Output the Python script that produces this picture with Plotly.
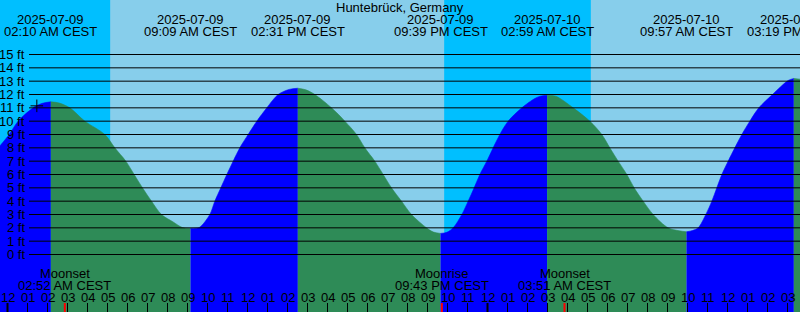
import plotly.graph_objects as go
import pandas as pd

# ---------------- data ----------------
title_text = "Huntebrück, Germany"

extreme_times = ["2025-07-09 02:10", "2025-07-09 09:09", "2025-07-09 14:31", "2025-07-09 21:39",
                 "2025-07-10 02:59", "2025-07-10 09:57", "2025-07-10 15:19"]
extreme_ft = [11.45, 1.95, 12.47, 1.58, 11.95, 1.70, 13.2]
extreme_date_labels = ["2025-07-09", "2025-07-09", "2025-07-09", "2025-07-09",
                       "2025-07-10", "2025-07-10", "2025-07-10"]
extreme_time_labels = ["02:10 AM CEST", "09:09 AM CEST", "02:31 PM CEST", "09:39 PM CEST",
                       "02:59 AM CEST", "09:57 AM CEST", "03:19 PM CEST"]

# tide height readings (ft) taken off the reference curve
curve_times = [
    "2025-07-08 23:37:30", "2025-07-09 00:05", "2025-07-09 00:32", "2025-07-09 01:17", "2025-07-09 01:45",
    "2025-07-09 02:10",
    "2025-07-09 02:35", "2025-07-09 03:07", "2025-07-09 03:52", "2025-07-09 04:52", "2025-07-09 05:22",
    "2025-07-09 05:55", "2025-07-09 06:20", "2025-07-09 06:45", "2025-07-09 07:12", "2025-07-09 07:42",
    "2025-07-09 08:17", "2025-07-09 08:45",
    "2025-07-09 09:09",
    "2025-07-09 09:24", "2025-07-09 09:37", "2025-07-09 10:07", "2025-07-09 10:22", "2025-07-09 10:40",
    "2025-07-09 10:58", "2025-07-09 11:17", "2025-07-09 11:37", "2025-07-09 12:02", "2025-07-09 12:28",
    "2025-07-09 12:58", "2025-07-09 13:32", "2025-07-09 14:05",
    "2025-07-09 14:31",
    "2025-07-09 14:55", "2025-07-09 15:22", "2025-07-09 16:12", "2025-07-09 16:52", "2025-07-09 17:27",
    "2025-07-09 17:52", "2025-07-09 18:22", "2025-07-09 18:47", "2025-07-09 19:12", "2025-07-09 19:42",
    "2025-07-09 20:12", "2025-07-09 20:57", "2025-07-09 21:18",
    "2025-07-09 21:39",
    "2025-07-09 21:58", "2025-07-09 22:17", "2025-07-09 22:43", "2025-07-09 23:02", "2025-07-09 23:20",
    "2025-07-09 23:37", "2025-07-09 23:58", "2025-07-10 00:17", "2025-07-10 00:37", "2025-07-10 01:02",
    "2025-07-10 01:43", "2025-07-10 02:22", "2025-07-10 02:38",
    "2025-07-10 02:59",
    "2025-07-10 03:25", "2025-07-10 04:17", "2025-07-10 05:07", "2025-07-10 05:43", "2025-07-10 06:07",
    "2025-07-10 06:32", "2025-07-10 06:58", "2025-07-10 07:20", "2025-07-10 07:47", "2025-07-10 08:17",
    "2025-07-10 09:02", "2025-07-10 09:35",
    "2025-07-10 09:57",
    "2025-07-10 10:15", "2025-07-10 10:32", "2025-07-10 10:55", "2025-07-10 11:13", "2025-07-10 11:28",
    "2025-07-10 11:43", "2025-07-10 12:02", "2025-07-10 12:22", "2025-07-10 12:43", "2025-07-10 13:07",
    "2025-07-10 13:34", "2025-07-10 14:15", "2025-07-10 15:02",
    "2025-07-10 15:19",
    "2025-07-10 15:37:30",
]
curve_ft = [
    8.15, 9.0, 10.0, 11.0, 11.34,
    11.45,
    11.36, 11.0, 10.0, 9.0, 8.0,
    7.0, 6.0, 5.0, 4.0, 3.0,
    2.44, 2.02,
    1.95,
    1.97, 2.05, 3.0, 4.0, 5.0,
    6.0, 7.0, 8.0, 9.0, 10.0,
    11.0, 12.0, 12.38,
    12.47,
    12.35, 12.0, 11.0, 10.0, 9.0,
    8.0, 7.0, 6.0, 5.0, 4.0,
    3.0, 2.0, 1.68,
    1.58,
    1.66, 2.0, 3.0, 4.0, 5.0,
    6.0, 7.0, 8.0, 9.0, 10.0,
    11.0, 11.7, 11.87,
    11.95,
    11.87, 11.0, 10.0, 9.0, 8.0,
    7.0, 6.0, 5.0, 4.0, 3.0,
    2.0, 1.78,
    1.70,
    1.80, 2.0, 3.0, 4.0, 5.0,
    6.0, 7.0, 8.0, 9.0, 10.0,
    11.0, 12.0, 13.05,
    13.2,
    13.15,
]

sunrise_times = ["2025-07-09 05:08", "2025-07-10 05:10"]
sunset_times = ["2025-07-09 21:50"]

moon_times = ["2025-07-09 02:52", "2025-07-09 21:43", "2025-07-10 03:51"]
moon_names = ["Moonset", "Moonrise", "Moonset"]
moon_time_labels = ["02:52 AM CEST", "09:43 PM CEST", "03:51 AM CEST"]

midnights = ["2025-07-09 00:00", "2025-07-10 00:00"]
hour_ticks = list(pd.date_range("2025-07-09 00:00", "2025-07-10 15:00", freq="h"))
hour_labels = (["12", "01", "02", "03", "04", "05", "06", "07", "08", "09", "10", "11"] * 3
               + ["12", "01", "02", "03"])

ft_levels = list(range(0, 16))
ft_labels = [f"{v} ft" for v in ft_levels]

now_time = ["2025-07-09 01:28"]
now_ft = [11.15]

x_start = "2025-07-08 23:37:30"
x_end = "2025-07-10 15:37:30"

# ---------------- styles ----------------
W, H = 800, 312
DAY = "#87CEEB"
NIGHT = "#00BFFF"
RISE = "#0000FF"
FALL = "#2E8B57"
Y_MIN, Y_MAX = -4.3125, 19.0875
Y_BASE = -6
FONT = "Liberation Sans, Arial, sans-serif"


def ypaper(px):
    return 1 - px / H


fig = go.Figure()

df = pd.DataFrame({"t": pd.to_datetime(curve_times, format="ISO8601"), "ft": curve_ft})
breaks = ([pd.Timestamp(x_start)] + list(pd.to_datetime(extreme_times, format="ISO8601"))
          + [pd.Timestamp(x_end)])
for a, b in zip(breaks[:-1], breaks[1:]):
    seg = df[(df.t >= a) & (df.t <= b)]
    color = RISE if seg.ft.iloc[-1] > seg.ft.iloc[0] else FALL
    fig.add_trace(go.Scatter(x=[a, b], y=[Y_BASE, Y_BASE], mode="lines",
                             line=dict(width=0), hoverinfo="skip", showlegend=False))
    fig.add_trace(go.Scatter(x=seg.t, y=seg.ft, mode="lines",
                             line=dict(color=color, width=0.6, shape="spline", smoothing=0.9),
                             fill="tonexty", fillcolor=color, hoverinfo="skip", showlegend=False))

fig.add_trace(go.Scatter(x=pd.to_datetime(now_time, format="ISO8601"), y=now_ft, mode="markers",
                         marker=dict(symbol="cross-thin", size=9, line=dict(color="black", width=1)),
                         hoverinfo="skip", showlegend=False))

shapes = []
# night bands
night_starts = [x_start] + sunset_times
for s, e in zip(night_starts, sunrise_times):
    shapes.append(dict(type="rect", xref="x", yref="paper", x0=s, x1=e, y0=0, y1=1,
                       fillcolor=NIGHT, line=dict(width=0), layer="below"))
# height lines
for v in ft_levels:
    shapes.append(dict(type="line", xref="paper", yref="y", x0=29 / W, x1=1, y0=v, y1=v,
                       line=dict(color="black", width=1), layer="above"))
# midnight ticks
for m in midnights:
    shapes.append(dict(type="line", xref="x", yref="paper", x0=m, x1=m, y0=0, y1=9 / H,
                       line=dict(color="black", width=2), layer="above"))
# moon ticks
for m in moon_times:
    shapes.append(dict(type="line", xref="x", yref="paper", x0=m, x1=m, y0=0, y1=9 / H,
                       line=dict(color="red", width=2), layer="above"))

ann = []
ann.append(dict(text=title_text, xref="paper", yref="paper", x=0.5, y=ypaper(7.5),
                xanchor="center", yanchor="middle", showarrow=False))
for t, d, tl in zip(extreme_times, extreme_date_labels, extreme_time_labels):
    ann.append(dict(text=d, xref="x", yref="paper", x=t, y=ypaper(19.5),
                    xanchor="center", yanchor="middle", showarrow=False))
    ann.append(dict(text=tl, xref="x", yref="paper", x=t, y=ypaper(31.5),
                    xanchor="center", yanchor="middle", showarrow=False))
for v, lab in zip(ft_levels, ft_labels):
    ann.append(dict(text=lab, xref="paper", yref="y", x=27 / W, y=v,
                    xanchor="right", yanchor="middle", showarrow=False))
for t, n, tl in zip(moon_times, moon_names, moon_time_labels):
    ann.append(dict(text=n, xref="x", yref="paper", x=t, y=ypaper(273.5),
                    xanchor="center", yanchor="middle", showarrow=False))
    ann.append(dict(text=tl, xref="x", yref="paper", x=t, y=ypaper(285.5),
                    xanchor="center", yanchor="middle", showarrow=False))
for t, lab in zip(hour_ticks, hour_labels):
    ann.append(dict(text=lab, xref="x", yref="paper", x=t, y=ypaper(297.5),
                    xanchor="center", yanchor="middle", showarrow=False))

fig.update_layout(
    width=W, height=H,
    margin=dict(l=0, r=0, t=0, b=0, pad=0),
    paper_bgcolor=DAY, plot_bgcolor=DAY,
    showlegend=False,
    font=dict(family=FONT, size=13, color="black"),
    xaxis=dict(type="date", range=[x_start, x_end], showgrid=False, zeroline=False, showline=False,
               tickvals=hour_ticks, ticks="inside", ticklen=9, tickwidth=1, tickcolor="black",
               showticklabels=False, fixedrange=True),
    yaxis=dict(range=[Y_MIN, Y_MAX], showgrid=False, zeroline=False, showline=False,
               showticklabels=False, ticks="", fixedrange=True),
    shapes=shapes,
    annotations=ann,
)

fig.write_html("out.html", config={"displayModeBar": False})
